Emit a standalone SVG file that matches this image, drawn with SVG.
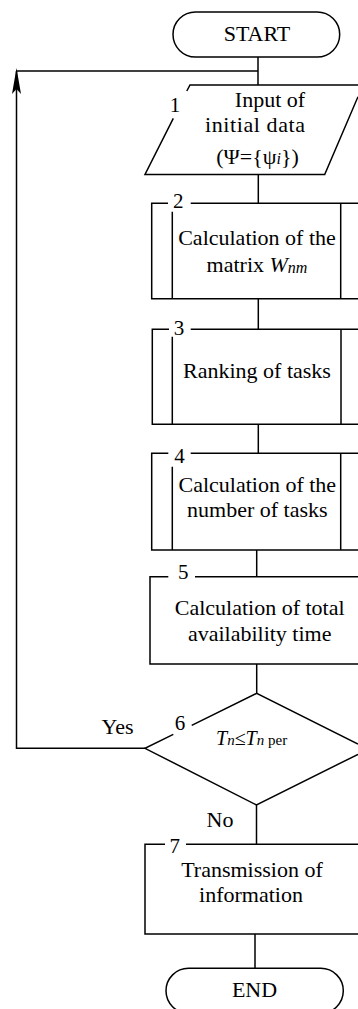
<svg xmlns="http://www.w3.org/2000/svg" width="358" height="1009" viewBox="0 0 358 1009">
<style>
.ln{fill:none;stroke:#000;stroke-width:1.5}
.t{font-family:"Liberation Serif","Times New Roman",serif;font-size:22px;fill:#000;text-anchor:middle}
.lab{font-family:"Liberation Serif","Times New Roman",serif;font-size:21px;fill:#000;text-anchor:middle}
.i{font-style:italic}
</style>
<defs>
<marker id="arr" markerUnits="userSpaceOnUse" viewBox="0 0 26 10" markerWidth="26" markerHeight="10" refX="23" refY="5" orient="auto">
<path d="M0,0.5 L26,5 L0,9.5 L5,5 Z" fill="#000"/>
</marker>
</defs>
<rect width="358" height="1009" fill="#fff"/>
<g id="connectors">
<path class="ln" d="M258,57 V85"/>
<path class="ln" d="M16.5,71 H258"/>
<path class="ln" d="M145,748.3 H16.5 V71" marker-end="url(#arr)"/>
<path class="ln" d="M258.3,174.5 V203.3"/>
<path class="ln" d="M258.3,298.7 V329.3"/>
<path class="ln" d="M258.3,424.3 V453.3"/>
<path class="ln" d="M256.7,550 V576.7"/>
<path class="ln" d="M256.7,664 V693.3"/>
<path class="ln" d="M256.5,805 V844.3"/>
<path class="ln" d="M255,934 V968.3"/>
<text class="t" x="117.5" y="734">Yes</text>
<text class="t" x="220" y="826.7">No</text>
</g>
<g id="start">
<rect class="ln" x="173" y="12" width="166.7" height="45" rx="22.5"/>
<text class="t" x="257" y="40.7">START</text>
</g>
<g id="node1">
<path class="ln" d="M186.8,91 L190,85 H358 M358,96.7 L324.7,174.5 H145 L173.3,118.3"/>
<text class="lab" x="175" y="111.7">1</text>
<text class="t" x="270" y="106.7">Input of</text>
<text class="t" x="255" y="131.7" textLength="100" lengthAdjust="spacing">initial data</text>
<text class="t" x="257.5" y="164">(Ψ={ψ<tspan class="i" font-size="16">i</tspan>})</text>
</g>
<g id="node2">
<path class="ln" d="M168,203.3 H151.7 V298.7 H358 M358,203.3 H190.7 M172.3,211.7 V298.7 M340.7,203.3 V298.7"/>
<text class="lab" x="178.3" y="208.3" font-size="20">2</text>
<text class="t" x="257" y="245">Calculation of the</text>
<text class="t" x="257" y="271.7">matrix <tspan class="i">W</tspan><tspan class="i" font-size="16" dy="1">nm</tspan></text>
</g>
<g id="node3">
<path class="ln" d="M169,329.3 H152.3 V424.3 H358 M358,329.3 H190.7 M172.3,336.7 V424.3 M341,329.3 V424.3"/>
<text class="lab" x="179" y="335" font-size="20">3</text>
<text class="t" x="257" y="378.3">Ranking of tasks</text>
</g>
<g id="node4">
<path class="ln" d="M168.3,453.3 H151.7 V550 H358 M358,453.3 H190.7 M172.3,466.7 V550 M340.7,453.3 V550"/>
<text class="lab" x="179.5" y="463.3" font-size="20">4</text>
<text class="t" x="257.3" y="491.7">Calculation of the</text>
<text class="t" x="257.3" y="516.7">number of tasks</text>
</g>
<g id="node5">
<path class="ln" d="M168.3,576.7 H150 V664 H358 M358,576.7 H195"/>
<text class="lab" x="183.3" y="579.3">5</text>
<text class="t" x="259.7" y="615">Calculation of total</text>
<text class="t" x="259.7" y="640.7">availability time</text>
</g>
<g id="node6">
<path class="ln" d="M173.3,734.4 L145,748.3 L256.5,805 L358,754.3 M358,744 L256.7,693.3 L191.7,725.3"/>
<text class="lab" x="180" y="730">6</text>
<text font-family="Liberation Serif, Times New Roman, serif" font-size="20" x="216" y="745"><tspan font-style="italic">T</tspan><tspan font-style="italic" font-size="15">n</tspan>≤<tspan font-style="italic">T</tspan><tspan font-style="italic" font-size="15">n</tspan><tspan font-size="15"> per</tspan></text>
</g>
<g id="node7">
<path class="ln" d="M165,844.3 H145 V934 H358 M358,844.3 H186"/>
<text class="lab" x="174.7" y="853">7</text>
<text class="t" x="252" y="876.7">Transmission of</text>
<text class="t" x="251" y="901.7">information</text>
</g>
<g id="end">
<rect class="ln" x="166" y="968.3" width="177.3" height="45" rx="22.5"/>
<text class="t" x="254.5" y="996.7">END</text>
</g>
</svg>
